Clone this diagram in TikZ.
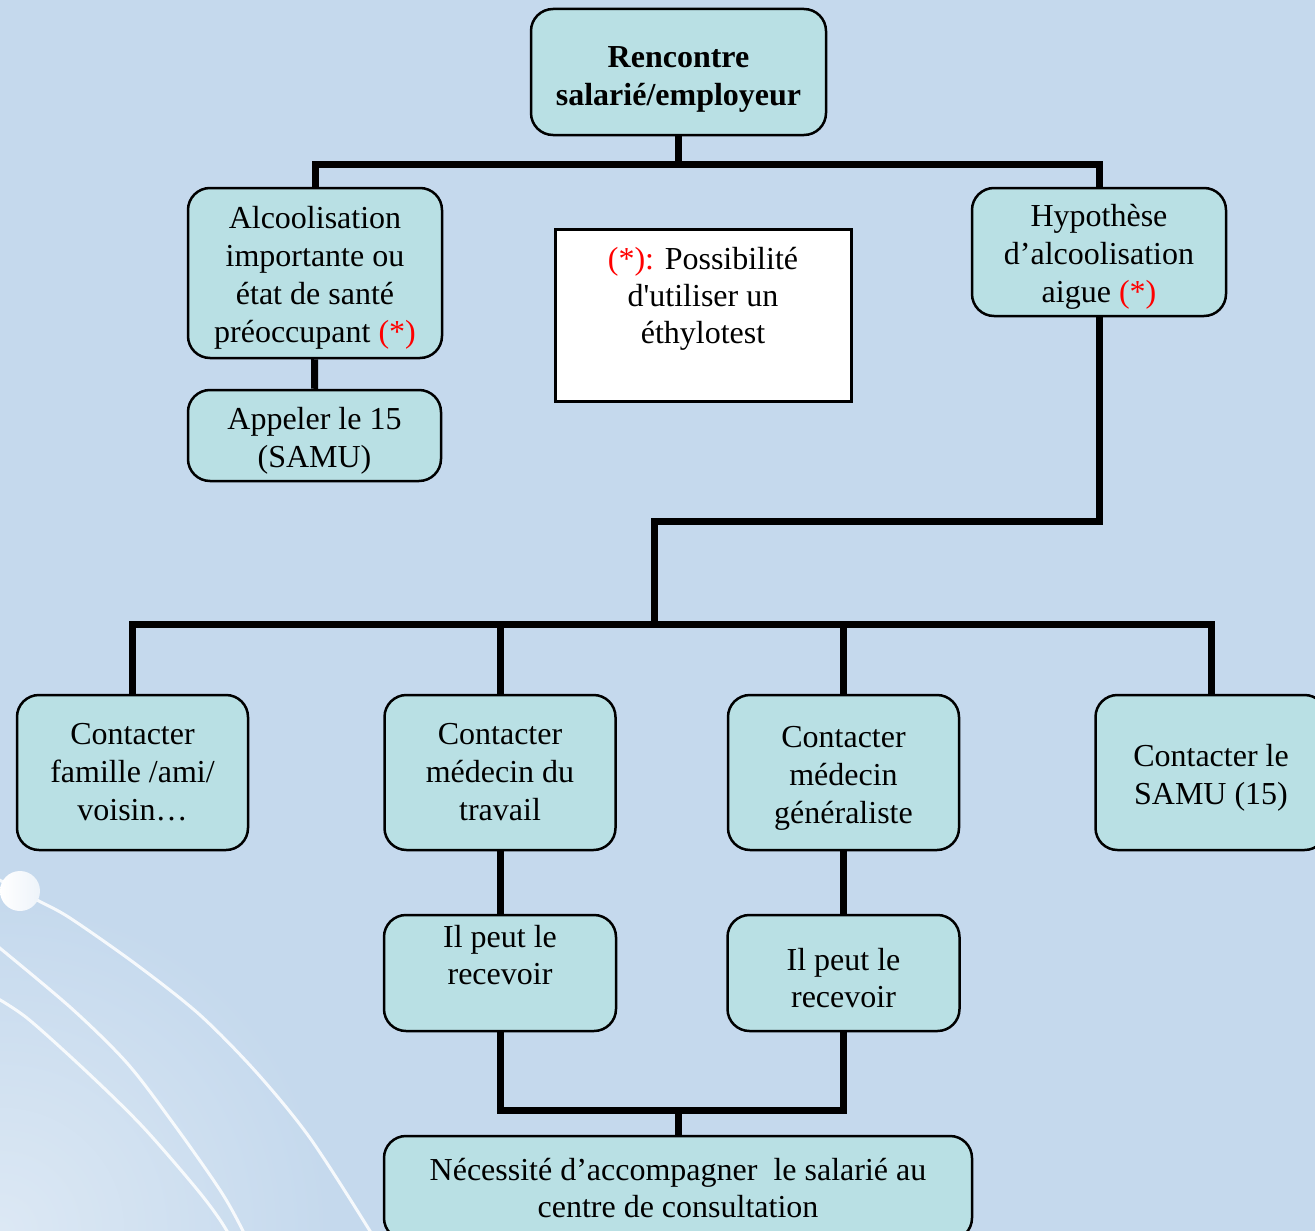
\documentclass[tikz,border=0pt]{standalone}
\usepackage{fontspec}
\setmainfont{Liberation Serif}
\usetikzlibrary{positioning}
\definecolor{fond}{RGB}{197,217,237}
\definecolor{boite}{RGB}{185,224,228}
\tikzset{
  boite/.style={draw, line width=2.5pt, rounded corners=22pt, fill=boite, align=center,
    inner sep=0pt, font=\fontsize{32}{38}\selectfont},
  lien/.style={line width=7pt},
  deco/.style={white, line width=3pt, opacity=.85}
}
\newcommand{\etoile}{\textcolor{red}{(*)}}
\newcommand{\haut}{\rule{0pt}{32pt}}

\begin{document}
\begin{tikzpicture}[x=1pt, y=-1pt]
\fill[fond] (0,0) rectangle (1315,1231);
\clip (0,0) rectangle (1315,1231);
% decor bas gauche
\shade[inner color=white!40!fond, outer color=fond] (0,1231) circle (330);
\draw[deco] plot[smooth] coordinates {(-10,875) (37,900) (70,918) (137,965) (200,1015) (257,1073) (310,1138) (370,1231) (395,1275)};
\draw[deco] plot[smooth] coordinates {(-10,940) (70,1007) (127,1063) (173,1123) (220,1190) (243,1231) (260,1270)};
\draw[deco] plot[smooth] coordinates {(-10,994) (27,1018) (87,1072) (143,1127) (200,1193) (227,1231) (245,1270)};
\shade[left color=white, right color=white!70!fond] (20,891) circle (20);

\node[boite, minimum width=295pt, minimum height=126pt] (rencontre) at (678.5,72)
  {\rule{0pt}{35pt}\textbf{Rencontre}\\\textbf{salarié/employeur}};
\node[boite, minimum width=254pt, minimum height=170pt] (alcool) at (315,273)
  {\haut Alcoolisation\\importante ou\\état de santé\\préoccupant \etoile};
\node[boite, minimum width=253pt, minimum height=91pt] (appel) at (314.5,435.5)
  {\haut Appeler le 15\\(SAMU)};
\node[draw, line width=3pt, fill=white, align=center, inner sep=0pt,
  font=\fontsize{32}{37}\selectfont, minimum width=296pt, minimum height=172pt] (note) at (703,315)
  {\haut\textcolor{red}{(*):} Possibilité\\d\textquotesingle utiliser un\\éthylotest\\\strut};
\node[boite, minimum width=254pt, minimum height=128pt] (hypo) at (1099,252)
  {\haut Hypothèse\\d’alcoolisation\\aigue \etoile};

\node[boite, minimum width=231pt, minimum height=155pt] (famille) at (132.5,772.5)
  {Contacter\\famille /ami/\\voisin…};
\node[boite, minimum width=231pt, minimum height=155pt] (travail) at (500,772.5)
  {Contacter\\médecin du\\travail};
\node[boite, minimum width=231pt, minimum height=155pt] (generaliste) at (843.5,772.5)
  {\haut Contacter\\médecin\\généraliste};
\node[boite, minimum width=231pt, minimum height=155pt] (samu) at (1211,772.5)
  {\haut Contacter le\\SAMU (15)};

\node[boite, minimum width=232pt, minimum height=116pt, font=\fontsize{32}{37}\selectfont] (recoitA) at (500,973)
  {Il peut le\\recevoir\\\mbox{}};
\node[boite, minimum width=232pt, minimum height=116pt, font=\fontsize{32}{37}\selectfont] (recoitB) at (843.5,973)
  {\haut Il peut le\\recevoir};
\node[boite, minimum width=588pt, minimum height=104pt, font=\fontsize{32}{37}\selectfont] (accomp) at (678,1188)
  {Nécessité d’accompagner\ \ le salarié au\\centre de consultation};

\coordinate (j1) at (678.5,164);
\coordinate (j2) at (654,521);
\coordinate (j3) at (654,624);
\coordinate (j4) at (678,1110);

\draw[lien] (rencontre.south) -- (j1) -| (alcool.north);
\draw[lien] (j1) -| (hypo.north);
\draw[lien] (alcool) -- (appel);
\draw[lien] (hypo.south) |- (j2) -- (j3);
\draw[lien] (famille.north) |- (j3) -| (samu.north);
\draw[lien] (travail.north |- j3) -- (travail.north);
\draw[lien] (generaliste.north |- j3) -- (generaliste.north);
\draw[lien] (travail) -- (recoitA);
\draw[lien] (generaliste) -- (recoitB);
\draw[lien] (recoitA.south) |- (j4) -| (recoitB.south);
\draw[lien] (j4) -- (accomp.north);
\end{tikzpicture}
\end{document}
